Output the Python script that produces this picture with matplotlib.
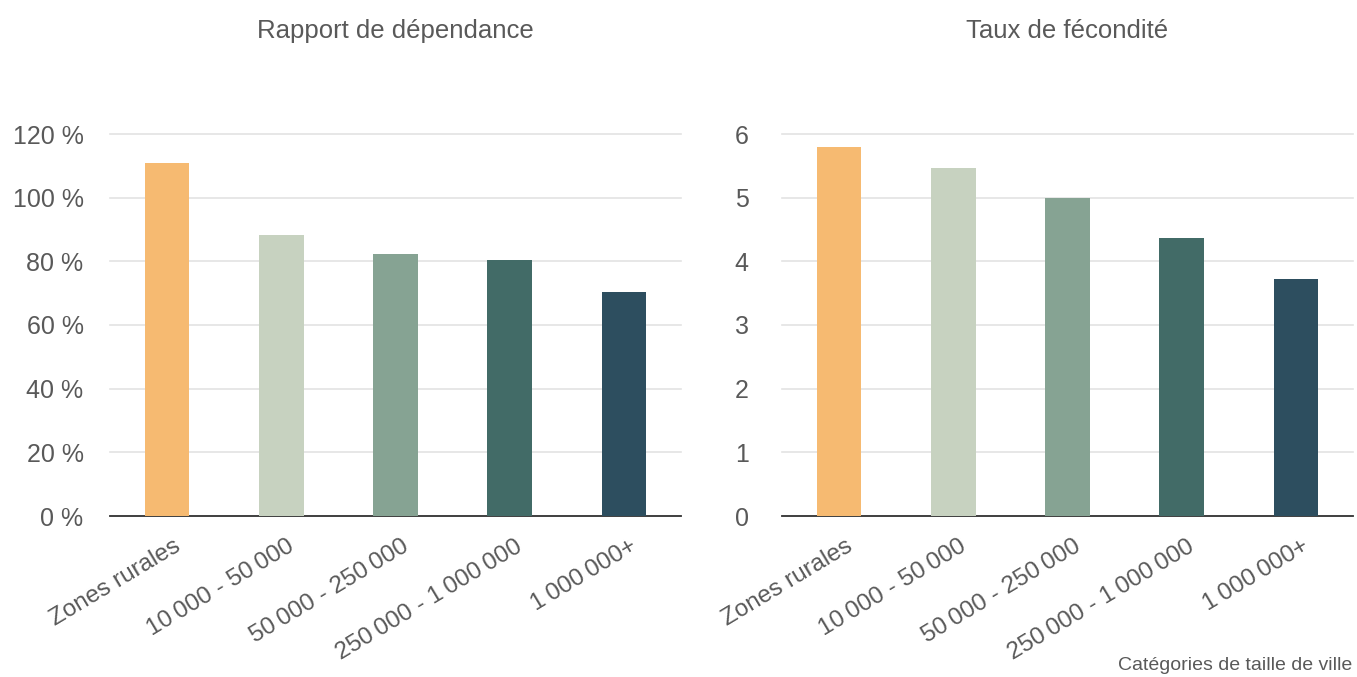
import matplotlib
matplotlib.use('Agg')
import matplotlib.pyplot as plt
import matplotlib.transforms as mtransforms

plt.rcParams['font.family'] = ['Liberation Sans', 'DejaVu Sans']

NNBSP = '\u202f'  # narrow no-break space used as thousands separator

# ---------------------------------------------------------------------------
# Data
# ---------------------------------------------------------------------------
categories = ['Zones rurales',
              f'10{NNBSP}000 - 50{NNBSP}000',
              f'50{NNBSP}000 - 250{NNBSP}000',
              f'250{NNBSP}000 - 1{NNBSP}000{NNBSP}000',
              f'1{NNBSP}000{NNBSP}000+']
dependency_ratio = [110.8, 88.2, 82.2, 80.3, 70.3]   # %
fertility_rate = [5.80, 5.47, 5.00, 4.36, 3.72]

dep_ticks = [0, 20, 40, 60, 80, 100, 120]
fert_ticks = [0, 1, 2, 3, 4, 5, 6]

bar_colors = ['#F6BA71', '#C7D2C0', '#86A393', '#426B67', '#2D4E5F']
text_color = '#595959'

W, H = 1357, 677
fig = plt.figure(figsize=(W / 100, H / 100), dpi=100)


def px_axes(left, right, top, bottom):
    return fig.add_axes([left / W, 1 - bottom / H, (right - left) / W, (bottom - top) / H])


def style(ax, title, ticks, fmt, ypad):
    x = range(len(categories))
    ax.set_xlim(-0.5, len(categories) - 0.5)
    ax.set_ylim(ticks[0], ticks[-1])
    ax.set_yticks(ticks)
    ax.set_yticklabels([fmt(t) for t in ticks])
    ax.set_xticks(list(x))
    ax.set_xticklabels(categories, rotation=31, ha='right', rotation_mode='anchor')
    ax.tick_params(axis='both', length=0, labelsize=18, colors=text_color)
    ax.tick_params(axis='x', labelsize=17.5, pad=14)
    ax.tick_params(axis='y', pad=ypad)
    # nudge category labels a little to the right
    shift = mtransforms.ScaledTranslation(4 / 72, 0, fig.dpi_scale_trans)
    for lab in ax.get_xticklabels():
        lab.set_transform(lab.get_transform() + shift)
    ax.grid(axis='y', color='#e3e3e3', linewidth=1.2)
    for gl in ax.get_ygridlines():
        gl.set_clip_on(False)
    ax.set_axisbelow(True)
    for side in ['top', 'right', 'left']:
        ax.spines[side].set_visible(False)
    ax.spines['bottom'].set_color('#333333')
    ax.spines['bottom'].set_linewidth(1.3)
    ax.set_title(title, fontsize=18.5, color=text_color, pad=69)


ax1 = px_axes(110, 681, 134, 516)
ax1.bar(range(len(categories)), dependency_ratio, width=0.39, color=bar_colors, zorder=3)
style(ax1, 'Rapport de dépendance', dep_ticks, lambda t: f'{t} %', 19)

ax2 = px_axes(782, 1353, 134, 516)
ax2.bar(range(len(categories)), fertility_rate, width=0.39, color=bar_colors, zorder=3)
style(ax2, 'Taux de fécondité', fert_ticks, lambda t: f'{t}', 24)

fig.text(1352 / W, 1 - 665 / H, 'Catégories de taille de ville', ha='right', va='center',
         fontsize=14, color=text_color)

fig.savefig('out.png', dpi=100)
